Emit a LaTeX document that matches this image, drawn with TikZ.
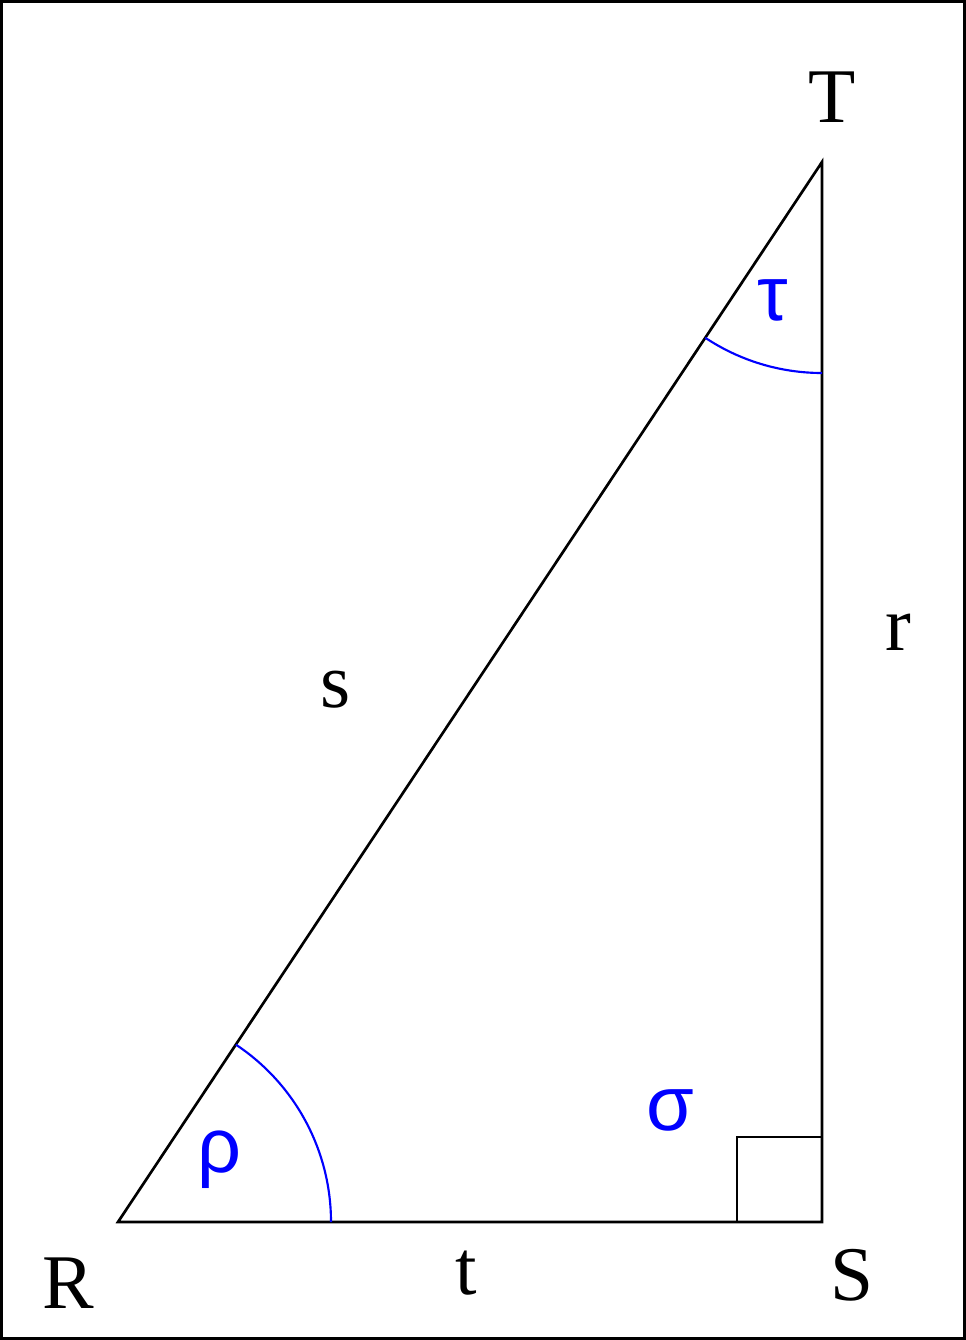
\documentclass[tikz,border=0pt]{standalone}
\usepackage{fontspec}
\setmainfont{Liberation Serif}
\newfontfamily\greekfont{Liberation Sans}
\begin{document}
\begin{tikzpicture}[x=0.75pt,y=-0.75pt,
  side/.style={draw=black,line width=2pt},
  anglearc/.style={draw=blue,line width=1.6pt},
  lbl/.style={font=\fontsize{58}{60}\selectfont,inner sep=0pt},
  glbl/.style={font=\greekfont\fontsize{58}{60}\selectfont,text=blue,inner sep=0pt}]
\useasboundingbox (0,0) rectangle (966,1340);
\draw[line width=2.2pt] (1.5,1.5) rectangle (964.5,1338.5);
\coordinate (R) at (118,1222);
\coordinate (S) at (822,1222);
\coordinate (T) at (822,162);
\draw[side,line join=miter] (R) -- (S) -- (T) -- cycle;
\draw[side] (737,1222) -- (737,1137) -- (822,1137);
\draw[anglearc] (331,1222) arc[start angle=0,end angle=-56.4,radius=213];
\draw[anglearc] (822,373) arc[start angle=90,end angle=123.6,radius=211];
\node[lbl] (lT) at (832,97) {T};
\node[lbl] (lR) at (68,1283) {R};
\node[lbl] (lS) at (852,1275) {S};
\node[lbl] (lt) at (466,1273) {t};
\node[lbl] (lr) at (898,632) {r};
\node[lbl] (ls) at (336,690) {s};
\node[glbl] (tau) at (773,300) {τ};
\node[glbl] (rho) at (219,1160) {ρ};
\node[glbl] (sig) at (670,1110) {σ};
\end{tikzpicture}
\end{document}
